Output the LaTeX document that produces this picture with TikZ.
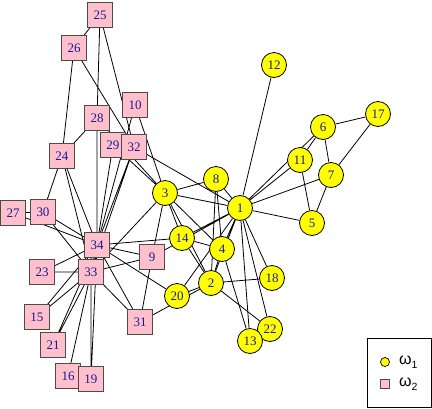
\documentclass[tikz,border=0pt]{standalone}
\usepackage{fontspec}
\setmainfont{Liberation Serif}
\newfontfamily\legendfont{Liberation Sans}
\usepackage{xcolor}
\usepackage{tikz}
\usetikzlibrary{positioning,backgrounds}
\definecolor{clubyellow}{RGB}{255,255,0}
\definecolor{clubpink}{RGB}{255,192,203}
\definecolor{labelblue}{RGB}{25,25,155}
\definecolor{boxgray}{RGB}{75,75,75}
\tikzset{
  memberA/.style={
    circle,
    draw=black,
    line width=0.8pt,
    fill=clubyellow,
    minimum size=25pt,
    inner sep=0pt,
    text=labelblue,
    font=\fontsize{13}{13}\selectfont
  },
  memberB/.style={
    rectangle,
    draw=boxgray,
    line width=0.9pt,
    fill=clubpink,
    minimum size=25pt,
    inner sep=0pt,
    text=labelblue,
    font=\fontsize{13}{13}\selectfont
  },
  tie/.style={draw=black, line width=0.8pt},
  legendbox/.style={draw=black, line width=0.9pt, minimum width=64pt, minimum height=69pt, inner sep=0pt},
  legendA/.style={circle, draw=black, line width=0.7pt, fill=clubyellow, minimum size=9pt, inner sep=0pt},
  legendB/.style={rectangle, draw=boxgray, line width=0.7pt, fill=clubpink, minimum size=9pt, inner sep=0pt},
  legendtext/.style={inner sep=0pt, font=\legendfont\fontsize{16}{16}\selectfont}
}
\newcommand{\legsub}[1]{\raisebox{-0.45ex}{\fontsize{10.5}{10.5}\selectfont #1}}

\begin{document}
\begin{tikzpicture}[x=1pt, y=-1pt]
  \useasboundingbox (0,0) rectangle (432,408);

  % members of the first faction
  \node[memberA] (n1) at (240,208) {1};
  \node[memberA] (n2) at (211,283) {2};
  \node[memberA] (n3) at (165,193) {3};
  \node[memberA] (n4) at (222,249) {4};
  \node[memberA] (n5) at (312,223) {5};
  \node[memberA] (n6) at (323,127) {6};
  \node[memberA] (n7) at (331,175) {7};
  \node[memberA] (n8) at (216,179) {8};
  \node[memberA] (n11) at (300,160) {11};
  \node[memberA] (n12) at (274,65) {12};
  \node[memberA] (n14) at (182,238) {14};
  \node[memberA] (n17) at (378,114) {17};
  \node[memberA] (n18) at (272,278) {18};
  \node[memberA] (n20) at (177,296) {20};
  \node[memberA] (n22) at (270,329) {22};
  \node[memberA] (n13) at (250,341) {13};

  % members of the second faction
  \node[memberB] (n9) at (152,257) {9};
  \node[memberB] (n10) at (135,105) {10};
  \node[memberB] (n15) at (37,317) {15};
  \node[memberB] (n16) at (68,376) {16};
  \node[memberB] (n19) at (91,379) {19};
  \node[memberB] (n21) at (53,345) {21};
  \node[memberB] (n23) at (42,272) {23};
  \node[memberB] (n24) at (62,156) {24};
  \node[memberB] (n25) at (100,15) {25};
  \node[memberB] (n26) at (74,48) {26};
  \node[memberB] (n27) at (13,213) {27};
  \node[memberB] (n28) at (97,118) {28};
  \node[memberB] (n29) at (113,145) {29};
  \node[memberB] (n30) at (43,212) {30};
  \node[memberB] (n31) at (140,322) {31};
  \node[memberB] (n32) at (134,147) {32};
  \node[memberB] (n34) at (97,245) {34};
  \node[memberB] (n33) at (91,272) {33};

  % friendship ties
  \begin{scope}[on background layer]
    \draw[tie] (n1) -- (n2) (n1) -- (n3) (n1) -- (n4) (n1) -- (n5) (n1) -- (n6)
      (n1) -- (n7) (n1) -- (n8) (n1) -- (n9) (n1) -- (n11) (n1) -- (n12)
      (n1) -- (n13) (n1) -- (n14) (n1) -- (n18) (n1) -- (n20) (n1) -- (n22)
      (n1) -- (n32);
    \draw[tie] (n2) -- (n3) (n2) -- (n4) (n2) -- (n8) (n2) -- (n14)
      (n2) -- (n18) (n2) -- (n20) (n2) -- (n22) (n2) -- (n31);
    \draw[tie] (n3) -- (n4) (n3) -- (n8) (n3) -- (n9) (n3) -- (n10)
      (n3) -- (n14) (n3) -- (n28) (n3) -- (n29) (n3) -- (n33);
    \draw[tie] (n4) -- (n8) (n4) -- (n13) (n4) -- (n14);
    \draw[tie] (n5) -- (n7) (n5) -- (n11);
    \draw[tie] (n6) -- (n7) (n6) -- (n11) (n6) -- (n17) (n7) -- (n17);
    \draw[tie] (n9) -- (n31) (n9) -- (n33) (n9) -- (n34);
    \draw[tie] (n10) -- (n34) (n14) -- (n34) (n20) -- (n34);
    \draw[tie] (n15) -- (n33) (n15) -- (n34) (n16) -- (n33) (n16) -- (n34);
    \draw[tie] (n19) -- (n33) (n19) -- (n34) (n21) -- (n33) (n21) -- (n34);
    \draw[tie] (n23) -- (n33) (n23) -- (n34);
    \draw[tie] (n24) -- (n26) (n24) -- (n28) (n24) -- (n30) (n24) -- (n33)
      (n24) -- (n34);
    \draw[tie] (n25) -- (n26) (n25) -- (n28) (n25) -- (n32) (n26) -- (n32);
    \draw[tie] (n27) -- (n30) (n27) -- (n34) (n28) -- (n34);
    \draw[tie] (n29) -- (n32) (n29) -- (n34) (n30) -- (n33) (n30) -- (n34);
    \draw[tie] (n31) -- (n33) (n31) -- (n34) (n32) -- (n33) (n32) -- (n34);
    \draw[tie] (n33) -- (n34);
  \end{scope}

  % legend
  \node[legendbox] (legend) at (399.5,373) {};
  \node[legendA] (legA) at (385,362) {};
  \node[legendB] (legB) at (385,384) {};
  \node[legendtext, right=9pt of legA] (legAtext) {ω\legsub{1}};
  \node[legendtext, right=9pt of legB] (legBtext) {ω\legsub{2}};
\end{tikzpicture}
\end{document}
